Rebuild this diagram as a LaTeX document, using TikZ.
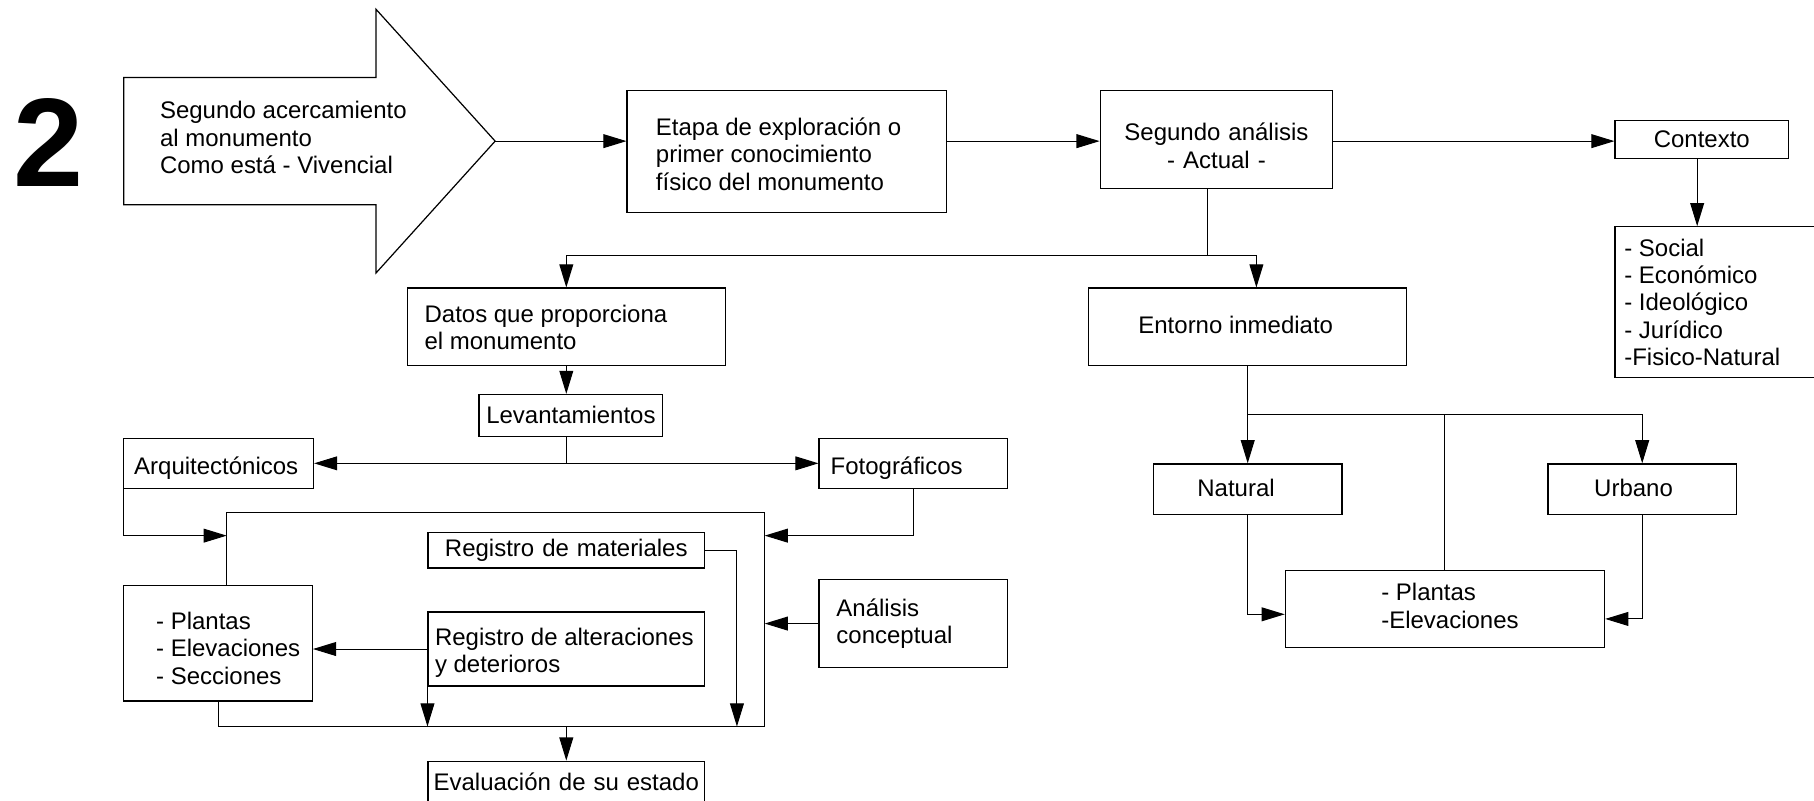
\documentclass[tikz,border=0pt]{standalone}
\usepackage{fontspec}
\setmainfont{Liberation Sans}
\usetikzlibrary{arrows.meta,calc}
\hyphenpenalty=10000
\exhyphenpenalty=10000
\newcommand\diafont{\fontsize{11.8}{13.5}\selectfont}
% [top strut height]{left pad}{box width}{lines}
\newcommand\boxtext[4][0pt]{\makebox[#3][l]{\hspace*{#2}\begin{tabular}{@{}l@{}}\rule{0pt}{#1}#4\end{tabular}}}
\tikzset{
  box/.style={draw, line width=0.6pt, inner xsep=0pt, inner ysep=0pt, font=\diafont},
  cbox/.style={box, align=center},
  ln/.style={line width=0.5pt},
  arr/.style={ln, -{Triangle[length=0.4cm,width=0.24cm]}}
}
\begin{document}
\begin{tikzpicture}[x=0.02cm, y=-0.02cm]
\useasboundingbox (0,0) rectangle (1568,692);
\clip (0,0) rectangle (1568,692);

% big number
\node[anchor=base, inner sep=0pt, font=\fontsize{62}{62}\bfseries\selectfont] (num) at (42,161) {2};

% big arrow
\draw[line width=0.6pt] (107,67) -- (325,67) -- (325,8) -- (428,122) -- (325,236) -- (325,177) -- (107,177) -- cycle;
\coordinate (tip) at (428,122);
\node[anchor=west, inner sep=0pt, align=left, font=\diafont] (acc) at (138,119)
  {Segundo acercamiento\\al monumento\\Como está - Vivencial};

% top row
\node[box, minimum height=2.12cm] (eta) at (680,131)
  {\boxtext[15.1pt]{0.5cm}{5.52cm}{Etapa de exploración o\\primer conocimiento\\físico del monumento}};
\node[cbox, text width=4.02cm, minimum height=1.7cm] (seg) at (1051.5,120.5)
  {\rule{0pt}{15pt}Segundo análisis\\- Actual -};
\node[cbox, text width=3.0cm, minimum height=0.66cm] (ctx) at (1471,120.5) {Contexto};
\node[box, minimum height=2.6cm] (lst) at (1498,261)
  {\boxtext[12.9pt]{0.16cm}{4.08cm}{- Social\\- Económico\\- Ideológico\\- Jurídico\\-Fisico-Natural}};

% second row
\node[box, minimum height=1.34cm] (dat) at (489.5,282.5)
  {\boxtext[12.9pt]{0.3cm}{5.5cm}{Datos que proporciona\\el monumento}};
\node[box, minimum height=1.34cm] (ent) at (1078.5,282.5)
  {\boxtext[10.6pt]{0.86cm}{5.5cm}{Entorno inmediato}};

% left part
\node[cbox, text width=3.18cm, minimum height=0.72cm] (lev) at (493.5,359) {Levantamientos};
\node[box, minimum height=0.86cm] (arq) at (189,400.5)
  {\boxtext[15.1pt]{0.18cm}{3.28cm}{Arquitectónicos}};
\node[box, minimum height=0.86cm] (fot) at (789.5,400.5)
  {\boxtext[15.1pt]{0.2cm}{3.26cm}{Fotográficos}};
\node[cbox, text width=4.78cm, minimum height=0.62cm] (rm) at (489.5,475.5) {Registro de materiales};
\node[box, minimum height=1.52cm] (ana) at (789.5,539)
  {\boxtext[10.6pt]{0.3cm}{3.26cm}{Análisis\\conceptual}};
\node[box, minimum height=2.0cm] (pla) at (188.5,556)
  {\boxtext[17.4pt]{0.56cm}{3.26cm}{- Plantas\\- Elevaciones\\- Secciones}};
\node[box, minimum height=1.28cm] (ra) at (489.5,561)
  {\boxtext[14.0pt]{0.12cm}{4.78cm}{Registro de alteraciones\\y deterioros}};
\node[cbox, text width=4.78cm, minimum height=0.72cm] (eva) at (489.5,676) {Evaluación de su estado};

% right part
\node[box, minimum height=0.88cm] (nat) at (1078.5,423)
  {\boxtext[10.6pt]{0.76cm}{3.26cm}{Natural}};
\node[box, minimum height=0.88cm] (urb) at (1419.5,423)
  {\boxtext[10.6pt]{0.8cm}{3.26cm}{Urbano}};
\node[box, minimum height=1.34cm] (pl2) at (1249,526.5)
  {\boxtext{1.66cm}{5.52cm}{- Plantas\\-Elevaciones}};

% connectors top
\draw[arr] (tip) -- (tip -| eta.west);
\draw[arr] (tip -| eta.east) -- (tip -| seg.west);
\draw[arr] (tip -| seg.east) -- (tip -| ctx.west);
\draw[arr] ([xshift=-0.08cm]ctx.south) -- ([xshift=-0.08cm]ctx.south |- lst.north);

\coordinate (j0) at (1044,221);
\draw[ln] (j0 |- seg.south) -- (j0);
\draw[arr] (j0) -| (dat.north);
\draw[arr] (j0) -| ([xshift=0.15cm]ent.north);

% left connectors
\draw[arr] (dat.south) -- (dat.south |- lev.north);
\coordinate (j1) at (dat.south |- arq.east);
\draw[ln] (lev.south -| j1) -- (j1);
\draw[arr] (j1) -- (arq.east);
\draw[arr] (j1) -- (fot.west);

\coordinate (ftl) at (196,443);
\coordinate (fbr) at (661,628);
\coordinate (fin) at (196,463);
\coordinate (rmx) at (637,628);
\draw[ln] (ftl |- pla.north) -- (ftl) -- (ftl -| fbr) -- (fbr) -- (fbr -| pla.south) -- (pla.south);
\draw[arr] (arq.south west) |- (fin);
\draw[arr] (fot.south) |- (fin -| fbr);
\draw[arr] (ana.west) -- (ana.west -| fbr);
\draw[arr] (rm.east) -| (rmx);
\draw[arr] (ra.west) -- (ra.west -| pla.east);
\draw[arr] (ra.south west) -- (ra.south west |- fbr);
\draw[arr] (fbr -| eva.north) -- (eva.north);

% right connectors
\coordinate (h358) at (0,358);
\coordinate (j2) at (ent.south |- h358);
\draw[ln] (ent.south) -- (j2);
\draw[arr] (j2) -- (nat.north);
\draw[arr] (j2) -| (urb.north);
\draw[ln] (pl2.north) -- (pl2.north |- j2);
\draw[arr] (nat.south) |- ([yshift=-0.09cm]pl2.west);
\draw[arr] (urb.south) |- ([yshift=-0.17cm]pl2.east);
\end{tikzpicture}
\end{document}
